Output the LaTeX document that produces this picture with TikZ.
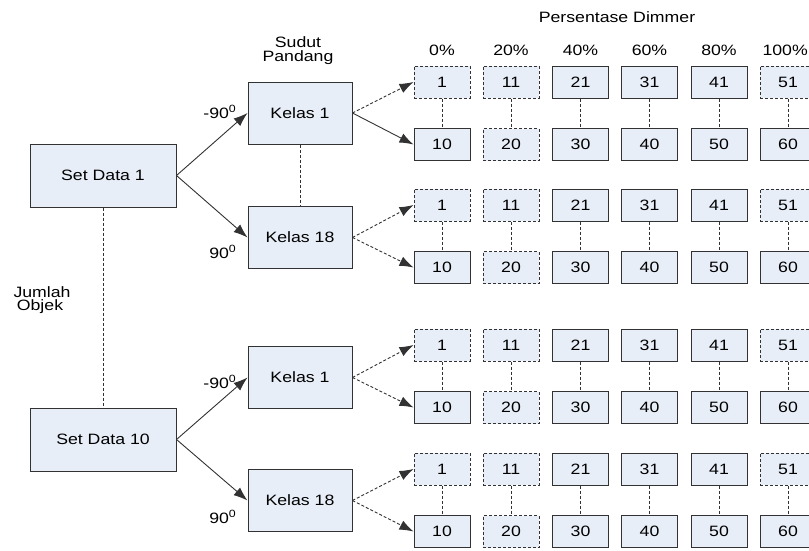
\documentclass[tikz,border=0pt]{standalone}
\usepackage{fontspec}
\setmainfont{Liberation Sans}
\usetikzlibrary{arrows.meta}
\definecolor{boxfill}{RGB}{232,238,248}
\definecolor{linec}{RGB}{50,50,50}
\newcommand{\wx}[1]{\scalebox{1.18}[1]{#1}}
\tikzset{
  every node/.style={font=\fontsize{15}{18}\selectfont, text=black},
  basebox/.style={draw=linec, fill=boxfill, line width=1pt, inner sep=0pt},
  cellbox/.style={basebox, minimum width=56, minimum height=32},
  solidcell/.style={cellbox},
  dashcell/.style={cellbox, dash pattern=on 3pt off 2pt},
  setbox/.style={basebox, minimum width=146, minimum height=63},
  kelasbox/.style={basebox, minimum width=104, minimum height=62},
  arr/.style={draw=linec, line width=0.9pt, -{Latex[length=14pt,width=10pt]}},
  darr/.style={arr, dash pattern=on 3pt off 2pt},
  dline/.style={draw=linec, line width=0.8pt, dash pattern=on 3pt off 2pt},
}
\begin{document}
\begin{tikzpicture}[x=1pt,y=-1pt]
\useasboundingbox (0,0) rectangle (809,550);
\clip (0,0) rectangle (809,550);

% headers
\node (hdr) at (617,17) {\wx{Persentase Dimmer}};
\foreach \c/\xc/\p in {1/442/0\%,2/511/20\%,3/580.5/40\%,4/649.5/60\%,5/719/80\%}
  \node (pct\c) at (\xc,50) {\wx{\p}};
\node[anchor=east, inner xsep=1pt] (pct6) at (809,50) {\wx{100\%}};
\node (sud1) at (298,42) {\wx{Sudut}};
\node (sud2) at (298,58) {\wx{Pandang}};
\node[anchor=west] (jum1) at (10,292) {\wx{Jumlah}};
\node (jum2) at (40,307) {\wx{Objek}};

% data sets and view angles
\node[setbox] (sd1) at (103,175.5) {\wx{Set Data 1}};
\node[setbox] (sd10) at (103,439.5) {\wx{Set Data 10}};
\node[kelasbox] (ka) at (300,113) {\wx{Kelas 1}};
\node[kelasbox] (kb) at (300,237.5) {\wx{Kelas 18}};
\node[kelasbox] (kc) at (300,377.5) {\wx{Kelas 1}};
\node[kelasbox] (kd) at (300,500.5) {\wx{Kelas 18}};

\draw[dline] (sd1.south) -- (sd10.north);
\draw[dline] (ka.south) -- (kb.north);

\draw[arr] (sd1.east) -- (ka.west);
\draw[arr] (sd1.east) -- (kb.west);
\draw[arr] (sd10.east) -- (kc.west);
\draw[arr] (sd10.east) -- (kd.west);

\node[anchor=east] (angA) at (240,112) {\wx{-90\textsuperscript{0}}};
\node[anchor=east] (angB) at (240,252) {\wx{90\textsuperscript{0}}};
\node[anchor=east] (angC) at (240,382) {\wx{-90\textsuperscript{0}}};
\node[anchor=east] (angD) at (240,517) {\wx{90\textsuperscript{0}}};

% dimmer grid: top row 1..51, bottom row 10..60
\foreach \g/\yt in {a/82, b/205, c/345, d/469} {
  \foreach \c/\xc in {1/442,2/511,3/580.5,4/649.5,5/719,6/788} {
    \pgfmathtruncatemacro{\nt}{(\c-1)*10+1}
    \pgfmathtruncatemacro{\nb}{\c*10}
    \pgfmathtruncatemacro{\td}{(\c==1)||(\c==2)||(\c==6)}
    \pgfmathtruncatemacro{\bd}{(\c==2)}
    \ifnum\td=1 \def\ts{dashcell}\else\def\ts{solidcell}\fi
    \ifnum\bd=1 \def\bs{dashcell}\else\def\bs{solidcell}\fi
    \node[\ts] (\g\c t) at (\xc,\yt) {\wx{\nt}};
    \node[\bs] (\g\c b) at (\xc,\yt+62.5) {\wx{\nb}};
    \draw[dline] (\g\c t.south) -- (\g\c b.north);
  }
}

\draw[darr] (ka.east) -- (a1t.west);
\draw[arr] (ka.east) -- (a1b.west);
\draw[darr] (kb.east) -- (b1t.west);
\draw[darr] (kb.east) -- (b1b.west);
\draw[darr] (kc.east) -- (c1t.west);
\draw[darr] (kc.east) -- (c1b.west);
\draw[darr] (kd.east) -- (d1t.west);
\draw[darr] (kd.east) -- (d1b.west);
\end{tikzpicture}
\end{document}
